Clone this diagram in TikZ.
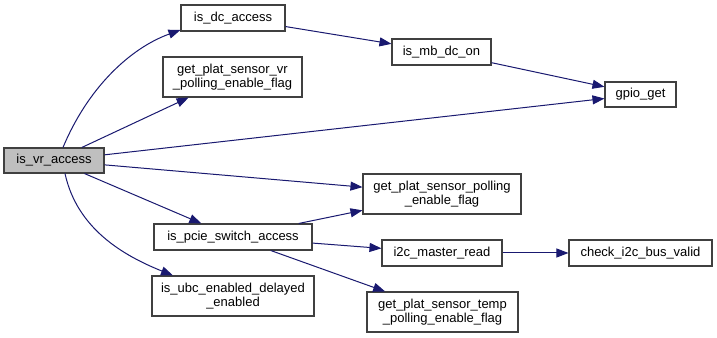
\documentclass[tikz,border=0pt]{standalone}
\usepackage{fontspec}
\setmainfont{Liberation Sans}
\usetikzlibrary{arrows.meta}
\definecolor{edgeblue}{HTML}{191970}
\definecolor{boxline}{HTML}{404040}
\definecolor{rootfill}{HTML}{BFBFBF}
\begin{document}
\begin{tikzpicture}[x=0.75pt,y=-0.75pt,
  fn/.style={draw=boxline, line width=0.8pt, fill=white, inner sep=0pt,
    align=center, font=\fontsize{9.75}{10.5}\selectfont},
  root/.style={fn, fill=rootfill},
  edge/.style={draw=edgeblue, line width=0.75pt,
    -{Triangle[length=9pt,width=6.75pt]}}]
\useasboundingbox[fill=white] (0,0) rectangle (717,338);

% functions
\node[root, minimum width=75pt,    minimum height=18.75pt] (vr)    at (54,160.5)  {is\_vr\_access};
\node[fn,   minimum width=78pt,    minimum height=19.5pt]  (dc)    at (233,18)    {is\_dc\_access};
\node[fn,   minimum width=74.25pt, minimum height=19.5pt]  (mb)    at (441.5,52)  {is\_mb\_dc\_on};
\node[fn,   minimum width=104.25pt,minimum height=30pt]    (gpsvr) at (232.5,77)  {get\_plat\_sensor\_vr\\\_polling\_enable\_flag};
\node[fn,   minimum width=53.25pt, minimum height=18.75pt] (gpio)  at (640.5,94.5){gpio\_get};
\node[fn,   minimum width=118.5pt, minimum height=30pt]    (gpsp)  at (442,194)   {get\_plat\_sensor\_polling\\\_enable\_flag};
\node[fn,   minimum width=118.5pt, minimum height=19.5pt]  (pcie)  at (233,237)   {is\_pcie\_switch\_access};
\node[fn,   minimum width=90pt,    minimum height=19.5pt]  (i2c)   at (442,253)   {i2c\_master\_read};
\node[fn,   minimum width=121.5pt, minimum height=30pt]    (ubc)   at (233,296)   {is\_ubc\_enabled\_delayed\\\_enabled};
\node[fn,   minimum width=113.25pt,minimum height=30pt]    (temp)  at (442.5,312) {get\_plat\_sensor\_temp\\\_polling\_enable\_flag};
\node[fn,   minimum width=107.25pt,minimum height=19.5pt]  (check) at (640.5,253) {check\_i2c\_bus\_valid};

% calls
\draw[edge] ([xshift=6.75pt]vr.north) .. controls +(25,-60) and +(-50,18) .. ([yshift=-9pt]dc.west);
\draw[edge] (vr) -- (gpsvr);
\draw[edge] (vr) -- (gpio);
\draw[edge] (vr) -- (gpsp);
\draw[edge] (vr) -- (pcie);
\draw[edge] ([xshift=8.25pt]vr.south) .. controls +(12,55) and +(-50,-20) .. ([xshift=-45pt]ubc.north);
\draw[edge] (dc) -- (mb);
\draw[edge] (mb) -- (gpio);
\draw[edge] (pcie) -- (gpsp);
\draw[edge] (pcie) -- (i2c);
\draw[edge] (pcie) -- (temp);
\draw[edge] (i2c) -- (check);
\end{tikzpicture}
\end{document}
